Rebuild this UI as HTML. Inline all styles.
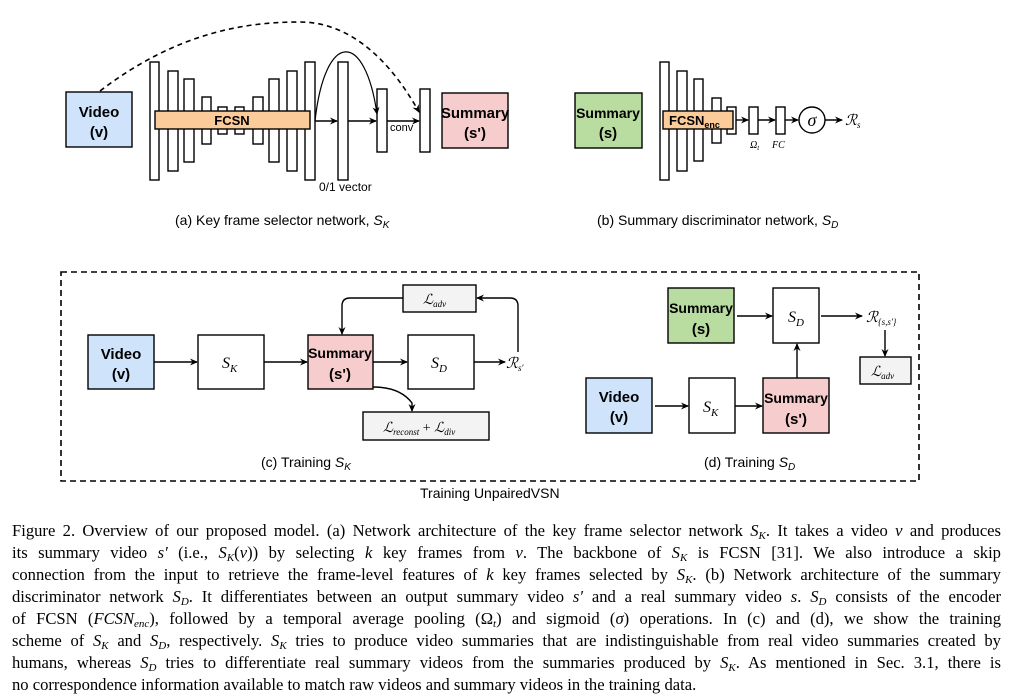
<!DOCTYPE html>
<html><head><meta charset="utf-8"><style>
body{margin:0;background:#fff;width:1013px;height:699px;overflow:hidden;position:relative}
svg{position:absolute;left:0;top:0}
.cap{position:absolute;left:12px;width:989px;font-family:"Liberation Serif",serif;font-size:16.6px;line-height:22px;top:520px;color:#000}
.cap div{text-align:justify;text-align-last:justify;white-space:nowrap;height:22px}
.cap div.last{text-align-last:left}
.cap sub{line-height:0;font-size:11px;vertical-align:-3px}
i{font-style:italic}
</style></head><body>
<svg width="1013" height="520" viewBox="0 0 1013 520" font-family="Liberation Sans, sans-serif">
<defs><marker id="a" markerWidth="8" markerHeight="8" refX="7" refY="4" orient="auto" markerUnits="userSpaceOnUse"><path d="M0,0.5 L8,4 L0,7.5 L2.5,4z" fill="#000"/></marker></defs>
<g stroke="#000" stroke-width="1.4" fill="#fff">
<rect x="66" y="92" width="66" height="55" fill="#cfe4fb"/>
<rect x="150" y="62" width="9" height="118"/><rect x="168" y="71" width="10" height="100"/><rect x="184" y="79" width="10" height="83"/>
<rect x="202" y="97" width="9" height="47"/><rect x="218" y="107" width="9" height="27"/><rect x="235" y="107" width="9" height="27"/>
<rect x="253" y="97" width="10" height="47"/><rect x="269" y="79" width="10" height="83"/><rect x="287" y="71" width="10" height="100"/><rect x="305" y="62" width="10" height="118"/>
<rect x="155" y="111" width="155" height="18" fill="#fbcc99"/>
<rect x="338" y="62" width="10" height="118"/><rect x="377" y="89" width="10" height="63"/><rect x="420" y="89" width="10" height="63"/>
<rect x="442" y="93" width="66" height="55" fill="#f7cccc"/>
<line x1="315" y1="121" x2="337" y2="121" marker-end="url(#a)"/>
<line x1="348" y1="121" x2="376" y2="121" marker-end="url(#a)"/>
<line x1="387" y1="121" x2="419" y2="121" marker-end="url(#a)"/>
<path d="M315,121 C325,30 365,30 377,114" fill="none" marker-end="url(#a)" stroke-width="1.2"/>
<path d="M100,91 C180,30 250,22 300,22 C350,22 390,60 419,112" fill="none" stroke-dasharray="5,4" stroke-width="1.6" marker-end="url(#a)"/>
<rect x="575" y="93" width="67" height="55" fill="#b9dca0"/>
<rect x="660" y="62" width="9" height="118"/><rect x="677" y="71" width="10" height="100"/><rect x="694" y="79" width="9" height="82"/><rect x="712" y="98" width="9" height="45"/><rect x="727" y="107" width="9" height="27"/>
<rect x="663" y="111" width="70" height="18" fill="#fbcc99"/>
<rect x="749" y="107" width="9" height="27"/><rect x="776" y="107" width="9" height="27"/>
<line x1="736" y1="120" x2="748" y2="120" marker-end="url(#a)"/>
<line x1="758" y1="120" x2="775" y2="120" marker-end="url(#a)"/>
<line x1="785" y1="120" x2="798" y2="120" marker-end="url(#a)"/>
<circle cx="812" cy="120" r="13"/>
<line x1="825" y1="120" x2="842" y2="120" marker-end="url(#a)"/>
<rect x="61" y="272" width="858" height="209" fill="none" stroke-dasharray="6,4" stroke-width="1.6"/>
<rect x="88" y="335" width="66" height="54" fill="#cfe4fb"/>
<rect x="198" y="335" width="66" height="54"/>
<rect x="308" y="335" width="65" height="54" fill="#f7cccc"/>
<rect x="408" y="335" width="66" height="54"/>
<rect x="403" y="285" width="73" height="27" fill="#f3f3f3"/>
<rect x="363" y="412" width="126" height="28" fill="#f3f3f3"/>
<line x1="154" y1="362" x2="197" y2="362" marker-end="url(#a)"/>
<line x1="264" y1="362" x2="307" y2="362" marker-end="url(#a)"/>
<line x1="373" y1="362" x2="407" y2="362" marker-end="url(#a)"/>
<line x1="474" y1="362" x2="505" y2="362" marker-end="url(#a)"/>
<path d="M518,352 L518,306 Q518,298 510,298 L477,298" fill="none" marker-end="url(#a)"/>
<path d="M403,298 L350,298 Q342,298 342,306 L342,334" fill="none" marker-end="url(#a)"/>
<path d="M373,387 Q400,387 412,403 L412,411" fill="none" marker-end="url(#a)"/>
<rect x="668" y="288" width="66" height="55" fill="#b9dca0"/>
<rect x="773" y="288" width="46" height="55"/>
<rect x="860" y="357" width="51" height="27" fill="#f3f3f3"/>
<rect x="586" y="378" width="66" height="55" fill="#cfe4fb"/>
<rect x="689" y="378" width="46" height="55"/>
<rect x="763" y="378" width="66" height="55" fill="#f7cccc"/>
<line x1="737" y1="316" x2="772" y2="316" marker-end="url(#a)"/>
<line x1="821" y1="316" x2="862" y2="316" marker-end="url(#a)"/>
<line x1="885" y1="330" x2="885" y2="356" marker-end="url(#a)"/>
<line x1="655" y1="406" x2="688" y2="406" marker-end="url(#a)"/>
<line x1="735" y1="406" x2="762" y2="406" marker-end="url(#a)"/>
<line x1="797" y1="378" x2="797" y2="344" marker-end="url(#a)"/>
</g>
<g font-weight="bold" font-size="15" text-anchor="middle" fill="#000">
<text x="99" y="117">Video</text><text x="99" y="137">(v)</text>
<text x="475" y="118">Summary</text><text x="475" y="138">(s')</text>
<text x="608" y="118" font-size="14">Summary</text><text x="608" y="138">(s)</text>
<text x="232" y="125" font-size="13">FCSN</text>
<text x="121" y="359">Video</text><text x="121" y="379">(v)</text>
<text x="340" y="358" font-size="14">Summary</text><text x="340" y="379">(s')</text>
<text x="701" y="313" font-size="14">Summary</text><text x="701" y="334">(s)</text>
<text x="619" y="402">Video</text><text x="619" y="422">(v)</text>
<text x="796" y="403" font-size="14">Summary</text><text x="796" y="424">(s')</text>
</g>
<text x="669" y="125" font-size="13" font-weight="bold">FCSN<tspan font-size="9" dy="3">enc</tspan></text>
<g font-size="12" fill="#000">
<text x="390" y="131" font-size="11">conv</text>
<text x="319" y="191">0/1 vector</text>
<text x="175" y="225" font-size="14">(a) Key frame selector network, <tspan font-style="italic">S<tspan font-size="10" dy="3">K</tspan></tspan></text>
<text x="597" y="225" font-size="14">(b) Summary discriminator network, <tspan font-style="italic">S<tspan font-size="10" dy="3">D</tspan></tspan></text>
<text x="261" y="467" font-size="14">(c) Training <tspan font-style="italic">S<tspan font-size="10" dy="3">K</tspan></tspan></text>
<text x="704" y="467" font-size="14">(d) Training <tspan font-style="italic">S<tspan font-size="10" dy="3">D</tspan></tspan></text>
<text x="420" y="498" font-size="14">Training UnpairedVSN</text>
</g>
<g font-family="Liberation Serif, serif" font-style="italic" fill="#000" font-size="16">
<text x="812" y="126" text-anchor="middle" font-size="18">σ</text>
<text x="845" y="125" font-size="15">ℛ<tspan font-size="9" dy="3">s</tspan></text>
<text x="750" y="148" font-size="10">Ω<tspan font-size="7" dy="2">t</tspan></text>
<text x="772" y="148" font-size="10">FC</text>
<text x="222" y="368">S<tspan font-size="11" dy="4">K</tspan></text>
<text x="431" y="368">S<tspan font-size="11" dy="4">D</tspan></text>
<text x="506" y="368" font-size="15">ℛ<tspan font-size="9" dy="3">s′</tspan></text>
<text x="423" y="304" font-size="14">ℒ<tspan font-size="9" dy="3">adv</tspan></text>
<text x="383" y="432" font-size="14">ℒ<tspan font-size="9" dy="3">reconst</tspan><tspan dy="-3" font-style="normal"> + </tspan>ℒ<tspan font-size="9" dy="3">div</tspan></text>
<text x="788" y="322">S<tspan font-size="11" dy="4">D</tspan></text>
<text x="703" y="412">S<tspan font-size="11" dy="4">K</tspan></text>
<text x="866" y="322" font-size="15">ℛ<tspan font-size="9" dy="3">{s,s′}</tspan></text>
<text x="871" y="376" font-size="14">ℒ<tspan font-size="9" dy="3">adv</tspan></text>
</g>
</svg>
<div class="cap">
<div>Figure 2. Overview of our proposed model. (a) Network architecture of the key frame selector network <i>S<sub>K</sub></i>. It takes a video <i>v</i> and produces</div>
<div>its summary video <i>s′</i> (i.e., <i>S<sub>K</sub></i>(<i>v</i>)) by selecting <i>k</i> key frames from <i>v</i>. The backbone of <i>S<sub>K</sub></i> is FCSN [31]. We also introduce a skip</div>
<div>connection from the input to retrieve the frame-level features of <i>k</i> key frames selected by <i>S<sub>K</sub></i>. (b) Network architecture of the summary</div>
<div>discriminator network <i>S<sub>D</sub></i>. It differentiates between an output summary video <i>s′</i> and a real summary video <i>s</i>. <i>S<sub>D</sub></i> consists of the encoder</div>
<div>of FCSN (<i>FCSN<sub>enc</sub></i>), followed by a temporal average pooling (Ω<sub><i>t</i></sub>) and sigmoid (<i>σ</i>) operations. In (c) and (d), we show the training</div>
<div>scheme of <i>S<sub>K</sub></i> and <i>S<sub>D</sub></i>, respectively. <i>S<sub>K</sub></i> tries to produce video summaries that are indistinguishable from real video summaries created by</div>
<div>humans, whereas <i>S<sub>D</sub></i> tries to differentiate real summary videos from the summaries produced by <i>S<sub>K</sub></i>. As mentioned in Sec. 3.1, there is</div>
<div class="last">no correspondence information available to match raw videos and summary videos in the training data.</div>
</div>
</body></html>
